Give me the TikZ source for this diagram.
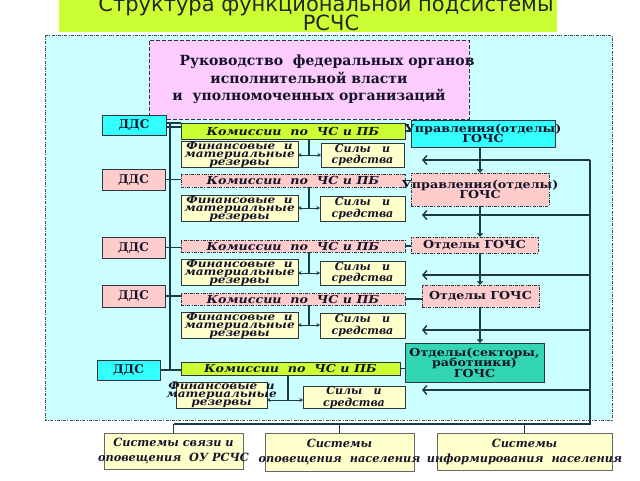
\documentclass[tikz,border=0pt]{standalone}
\usepackage{fontspec}
\setmainfont{DejaVu Serif}
\newfontfamily\titlefont{DejaVu Sans}
\newfontfamily\wideA[FakeStretch=1.15]{DejaVu Serif}
\usetikzlibrary{arrows.meta}
\definecolor{limeA}{HTML}{CCFF33}
\definecolor{skyA}{HTML}{CCFFFF}
\definecolor{pinkA}{HTML}{FFCCFF}
\definecolor{cyanA}{HTML}{33FFFF}
\definecolor{roseA}{HTML}{FFCCCC}
\definecolor{creamA}{HTML}{FFFFCC}
\definecolor{tealA}{HTML}{33D6B4}
\definecolor{lnc}{HTML}{1E3A4A}
\definecolor{bdc}{HTML}{2E3440}
\definecolor{txc}{HTML}{141428}
\newcommand\zl[1]{\makebox[0pt]{#1}}
\newcommand\tightls{\lineskiplimit=-50pt\relax}
\newcommand\bx[7]{\node[#6, minimum width={#4pt-#2pt}, minimum height={#5pt-#3pt}] (#1) at ({(#2+#4)/2},{(#3+#5)/2}) {#7};}
\tikzset{
  ln/.style={draw=lnc, line width=1.1pt},
  bxs/.style={draw=bdc, line width=0.9pt, inner sep=0pt, outer sep=0pt, align=center, text=txc},
  dsh/.style={dash pattern=on 3pt off 1.2pt on 1pt off 1.2pt},
  leadbox/.style={bxs, fill=pinkA, dash pattern=on 4pt off 2pt, font={\bfseries\fontsize{14}{17.5}\selectfont}},
  ddsbox/.style={bxs, font={\bfseries\fontsize{12}{12}\selectfont}},
  kombox/.style={bxs, font={\wideA\bfseries\itshape\fontsize{11}{12}\selectfont}},
  upbox/.style={bxs, font={\wideA\bfseries\fontsize{11}{10.5}\selectfont\tightls}},
  finbox/.style={bxs, fill=creamA, font={\wideA\bfseries\itshape\fontsize{10.5}{8}\selectfont\tightls}},
  silbox/.style={bxs, fill=creamA, font={\bfseries\itshape\fontsize{11}{11.5}\selectfont\tightls}},
  botbox/.style={bxs, fill=creamA, draw=gray!80!black, font={\bfseries\itshape\fontsize{11.3}{15}\selectfont}},
  dbl/.style={{Stealth[length=3.5pt,width=4pt]}-{Stealth[length=3.5pt,width=4pt]}},
  dn/.style={-{Straight Barb[length=3pt,width=5pt]}},
  bk/.style={-{Straight Barb[length=4pt,width=9pt,line width=1.4pt]}}
}
\begin{document}
\begin{tikzpicture}[x=1pt,y=-1pt]
\useasboundingbox (0,0) rectangle (640,480);
\fill[white] (0,0) rectangle (640,480);
% title
\fill[limeA] (59,-2) rectangle (557,32);
\node[anchor=base, inner sep=0pt, text=black!85, font={\titlefont\fontsize{21}{21}\selectfont}] (t1) at (326,11) {Структура функциональной подсистемы};
\node[anchor=base, inner sep=0pt, text=black!85, font={\titlefont\fontsize{21}{21}\selectfont}] (t2) at (331,30) {РСЧС};
% outer area
\draw[fill=skyA, draw=black!70, line width=0.9pt, dsh] (45,35) rectangle (612,420);
% lead box
\bx{lead}{149}{40}{469}{119}{leadbox}{\zl{\hspace{36pt}Руководство~ федеральных органов}\\\zl{исполнительной власти}\\\zl{и~ уполномоченных организаций}}
% DDS
\bx{d1}{102}{115}{166}{135}{ddsbox, fill=cyanA}{ДДС}
\bx{d2}{102}{169}{165}{190}{ddsbox, fill=roseA}{ДДС}
\bx{d3}{102}{237}{165}{258}{ddsbox, fill=roseA}{ДДС}
\bx{d4}{102}{285}{165}{307}{ddsbox, fill=roseA}{ДДС}
\bx{d5}{97}{360}{160}{380}{ddsbox, fill=cyanA}{ДДС}
% commissions
\bx{k1}{181}{123}{405}{139}{kombox, fill=limeA}{\zl{Комиссии~ по~ ЧС и ПБ}}
\bx{k2}{181}{174}{405}{187}{kombox, fill=roseA, dsh}{\zl{Комиссии~ по~ ЧС и ПБ}}
\bx{k3}{181}{240}{405}{252}{kombox, fill=roseA, dsh}{\zl{Комиссии~ по~ ЧС и ПБ}}
\bx{k4}{181}{293}{405}{305}{kombox, fill=roseA, dsh}{\zl{Комиссии~ по~ ЧС и ПБ}}
\bx{k5}{181}{362}{400}{375}{kombox, fill=limeA}{\zl{Комиссии~ по~ ЧС и ПБ}}
% right column
\bx{u1}{411}{120}{555}{147}{upbox, fill=cyanA}{\zl{Управления(отделы)}\\\zl{ГОЧС}}
\bx{u2}{411}{173}{549}{206}{upbox, fill=roseA, dsh}{\zl{Управления(отделы)}\\\zl{ГОЧС}}
\bx{o3}{411}{237}{538}{253}{upbox, fill=roseA, dsh}{\zl{Отделы ГОЧС}}
\bx{o4}{422}{285}{539}{307}{upbox, fill=roseA, dsh}{\zl{Отделы ГОЧС}}
\bx{t5}{405}{343}{544}{382}{upbox, fill=tealA}{\zl{Отделы(секторы,}\\\zl{работники)}\\\zl{ГОЧС}}
% reserves and forces
\bx{f1}{181}{142}{298}{167}{finbox}{\zl{Финансовые~ и}\\\zl{материальные}\\\zl{резервы}}
\bx{f2}{181}{196}{298}{221}{finbox}{\zl{Финансовые~ и}\\\zl{материальные}\\\zl{резервы}}
\bx{f3}{181}{260}{298}{285}{finbox}{\zl{Финансовые~ и}\\\zl{материальные}\\\zl{резервы}}
\bx{f4}{181}{313}{298}{338}{finbox}{\zl{Финансовые~ и}\\\zl{материальные}\\\zl{резервы}}
\bx{f5}{176}{382}{267}{408}{finbox}{\zl{Финансовые~ и}\\\zl{материальные}\\\zl{резервы}}
\bx{s1}{321}{143}{404}{167}{silbox}{\zl{Силы~~ и}\\\zl{средства}}
\bx{s2}{320}{196}{405}{221}{silbox}{\zl{Силы~~ и}\\\zl{средства}}
\bx{s3}{320}{261}{405}{285}{silbox}{\zl{Силы~~ и}\\\zl{средства}}
\bx{s4}{320}{313}{405}{338}{silbox}{\zl{Силы~~ и}\\\zl{средства}}
\bx{s5}{303}{387}{405}{408}{silbox}{\zl{Силы~~ и}\\\zl{средства}}
% bottom systems
\bx{b1}{104}{433}{243}{469}{botbox}{\zl{Системы связи и}\\\zl{оповещения~ ОУ РСЧС}}
\bx{b2}{265}{433}{414}{471}{botbox}{\zl{Системы}\\\zl{оповещения~ населения}}
\bx{b3}{437}{433}{612}{470}{botbox}{\zl{Системы}\\\zl{информирования~ населения}}
% left bus
\coordinate (lbT) at (170,123);
\coordinate (lbB) at (170,370);
\draw[ln] (lbT) -- (lbB);
\draw[ln] ([yshift=2pt]d1.east) -- ([yshift=2pt]d1.east -| k1.west);
\draw[ln] ([yshift=-2pt]d1.east) -- ([yshift=-2pt]d1.east -| k1.west);
\draw[ln] (d2.east) -- (d2.east -| k2.west);
\draw[ln] (d3.east) -- (d3.east -| k3.west);
\draw[ln] (d4.east) -- (d4.east -| k4.west);
\draw[ln] (d5.east) -- (d5.east -| k5.west);
% commission to reserves/forces
\coordinate (j1) at (309,155);
\coordinate (j2) at (309,208);
\coordinate (j3) at (309,273);
\coordinate (j4) at (309,325);
\coordinate (j5) at (288,400);
\foreach \i in {1,...,5}{
  \draw[ln] (k\i.south -| j\i) -- (j\i);
  \draw[ln, line width=0.9pt, dbl] (f\i.east |- j\i) -- (s\i.west |- j\i);
}
% commission to right column
\draw[ln] (k1.east) -- (k1.east -| u1.west);
\draw[ln] (k2.east) -- (k2.east -| u2.west);
\draw[ln] (k3.east) -- (k3.east -| o3.west);
\draw[ln] (k4.east) -- (k4.east -| o4.west);
\draw[ln] (k5.east) -- (k5.east -| t5.west);
% central chain
\coordinate (cx) at (480,0);
\draw[ln, dn] (u1.south -| cx) -- (u2.north -| cx);
\draw[ln, dn] (u2.south -| cx) -- (o3.north -| cx);
\draw[ln, dn] (o3.south -| cx) -- (o4.north -| cx);
\draw[ln, dn] (o4.south -| cx) -- (t5.north -| cx);
% feedback line
\coordinate (r1) at (590,160); \coordinate (a1) at (422,160);
\coordinate (r2) at (590,215); \coordinate (a2) at (422,215);
\coordinate (r3) at (590,275); \coordinate (a3) at (422,275);
\coordinate (r4) at (590,330); \coordinate (a4) at (422,330);
\coordinate (r5) at (590,390); \coordinate (a5) at (422,390);
\foreach \i in {1,...,5}{ \draw[ln, bk] (r\i) -- (a\i); }
\coordinate (rB) at (590,424);
\draw[ln] (r1) -- (rB) -- (rB -| b1.north);
\draw[ln] (rB -| b1.north) -- (b1.north);
\draw[ln] (rB -| b2.north) -- (b2.north);
\draw[ln] (rB -| b3.north) -- (b3.north);
\end{tikzpicture}
\end{document}
